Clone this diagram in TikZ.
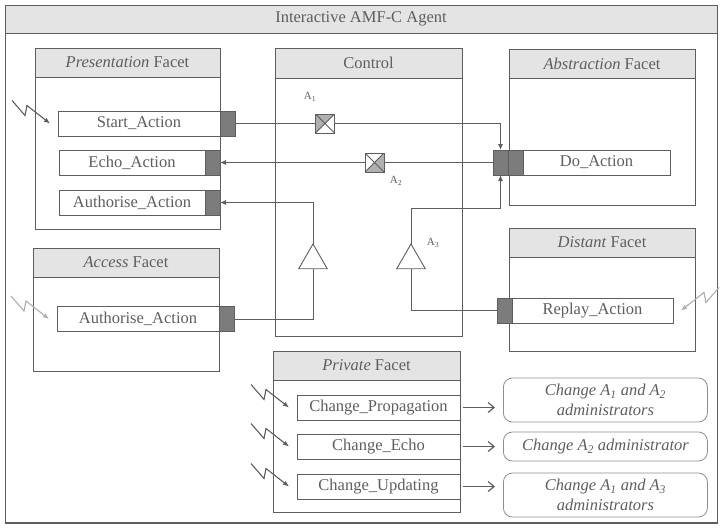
\documentclass[tikz,border=0pt]{standalone}
\usepackage{fontspec}
\setmainfont{Liberation Serif}
\usetikzlibrary{arrows.meta,shapes.geometric}
\definecolor{ink}{HTML}{5E5E5E}
\definecolor{port}{HTML}{7C7C7C}
\definecolor{band}{HTML}{E4E4E4}
\tikzset{
  every node/.style={font=\fontsize{16.5}{20}\selectfont, text=ink},
  frame/.style={draw=ink, line width=0.9pt, inner sep=0pt, outer sep=0pt},
  head/.style={frame, fill=band, minimum height=29pt},
  act/.style={frame, fill=white, minimum height=25pt},
  portbox/.style={frame, fill=port, minimum width=15pt, minimum height=25pt},
  note/.style={draw=ink!70, line width=0.8pt, rounded corners=9pt, align=center,
    minimum width=204pt, inner sep=2pt, font=\fontsize{16.5}{20}\selectfont\itshape},
  tri/.style={frame, fill=white, regular polygon, regular polygon sides=3, minimum size=33pt},
  lab/.style={font=\fontsize{11}{12}\selectfont},
  wire/.style={draw=ink, line width=1pt},
  tip/.style={-{Latex[length=6pt,width=5pt]}},
  switchA/.style={frame, fill=white, minimum size=19pt, path picture={
    \fill[port!60] (path picture bounding box.north east) -- (path picture bounding box.north west)
      -- (path picture bounding box.south west) -- (path picture bounding box.center) -- cycle;
    \draw[ink] (path picture bounding box.north west) -- (path picture bounding box.south east)
      (path picture bounding box.north east) -- (path picture bounding box.south west);}},
  switchB/.style={frame, fill=white, minimum size=19pt, path picture={
    \fill[port!60] (path picture bounding box.south west) -- (path picture bounding box.south east)
      -- (path picture bounding box.north east) -- (path picture bounding box.center) -- cycle;
    \draw[ink] (path picture bounding box.north west) -- (path picture bounding box.south east)
      (path picture bounding box.north east) -- (path picture bounding box.south west);}},
}

\begin{document}
\begin{tikzpicture}[x=1pt,y=-1pt]
  \newcommand\bolt[2][ink]{\draw[#1, line width=1.1pt, -{Latex[length=6pt,width=5pt]}]
    ([xshift=-8pt]#2.west) ++(-38,-23) -- ++(13,15) -- ++(2,-10) -- ++(23,18);}
  \newcommand\boltr[2][ink]{\draw[#1, line width=1.1pt, -{Latex[length=6pt,width=5pt]}]
    ([xshift=8pt]#2.east) ++(38,-23) -- ++(-13,15) -- ++(-2,-10) -- ++(-23,18);}
  \useasboundingbox (0,0) rectangle (720,528);

  \node[frame, anchor=north west, minimum width=712pt, minimum height=518pt] (agent) at (5,5) {};
  \draw[ink, line width=2pt] (agent.south west) -- (agent.south east);
  \node[head, anchor=north west, minimum width=712pt, minimum height=28pt] (title) at (5,5) {Interactive AMF-C Agent};

  \node[frame, anchor=north west, minimum width=185pt, minimum height=181pt] (pres) at (35,48) {};
  \node[head, anchor=north west, minimum width=185pt] (presh) at (35,48) {\textit{Presentation} Facet};
  \node[frame, anchor=north west, minimum width=187pt, minimum height=288pt] (ctrl) at (275,48) {};
  \node[head, anchor=north west, minimum width=187pt, minimum height=30pt] (ctrlh) at (275,48) {Control};
  \node[frame, anchor=north west, minimum width=186pt, minimum height=156pt] (abs) at (509,49) {};
  \node[head, anchor=north west, minimum width=186pt] (absh) at (509,49) {\textit{Abstraction} Facet};
  \node[frame, anchor=north west, minimum width=186pt, minimum height=123pt] (dist) at (509,228) {};
  \node[head, anchor=north west, minimum width=186pt] (disth) at (509,228) {\textit{Distant} Facet};
  \node[frame, anchor=north west, minimum width=186pt, minimum height=123pt] (acc) at (33,248) {};
  \node[head, anchor=north west, minimum width=186pt] (acch) at (33,248) {\textit{Access} Facet};
  \node[frame, anchor=north west, minimum width=187pt, minimum height=161pt] (priv) at (273,351) {};
  \node[head, anchor=north west, minimum width=187pt] (privh) at (273,351) {\textit{Private} Facet};

  \node[act, anchor=west, minimum width=162pt] (start) at (58,123.5) {Start\_Action};
  \node[portbox, anchor=west] (startp) at (start.east) {};
  \node[act, anchor=west, minimum width=146pt] (echo) at (59,162.5) {Echo\_Action};
  \node[portbox, anchor=west] (echop) at (echo.east) {};
  \node[act, anchor=west, minimum width=146pt] (auth) at (59,202.5) {Authorise\_Action};
  \node[portbox, anchor=west] (authp) at (auth.east) {};
  \node[act, anchor=west, minimum width=162pt] (accauth) at (57,319) {Authorise\_Action};
  \node[portbox, anchor=west] (accp) at (accauth.east) {};

  \node[portbox, anchor=west] (dop1) at (493,162.5) {};
  \node[portbox, anchor=west] (dop2) at (dop1.east) {};
  \node[act, anchor=west, minimum width=147pt] (do) at (dop2.east) {Do\_Action};
  \node[portbox, anchor=west] (repp) at (497,310.5) {};
  \node[act, anchor=west, minimum width=161pt] (replay) at (repp.east) {Replay\_Action};

  \node[switchA] (a1) at (325,123.5) {};
  \node[switchB] (a2) at (374.5,162.5) {};
  \node[tri] (t1) at (313,260.5) {};
  \node[tri] (t2) at (411,260.5) {};
  \node[lab] (a1l) at (310,97) {A\textsubscript{1}};
  \node[lab] (a2l) at (396,181) {A\textsubscript{2}};
  \node[lab] (a3l) at (433,243) {A\textsubscript{3}};

  \draw[wire, tip] (startp.east) -- (a1) -- (a1 -| dop1) -- (dop1.north);
  \draw[wire, tip] (dop1.west) -- (a2) -- (echop.east);
  \draw[wire, tip] (t1.north) |- (authp.east);
  \draw[wire] (accp.east) -| (t1.south);
  \draw[wire, tip] (t2.north) -- ++(0,-36) -| (dop1.south);
  \draw[wire] (repp.west) -| (t2.south);

  \node[act, anchor=west, minimum width=163pt] (cprop) at (297,407.5) {Change\_Propagation};
  \node[act, anchor=west, minimum width=163pt] (cecho) at (297,446.5) {Change\_Echo};
  \node[act, anchor=west, minimum width=163pt] (cupd) at (297,486.5) {Change\_Updating};
  \node[note, anchor=west, minimum height=44pt] (r1) at (503,400) {Change A\textsubscript{1} and A\textsubscript{2}\\administrators};
  \node[note, anchor=west, minimum height=29pt] (r2) at (503,446.5) {Change A\textsubscript{2} administrator};
  \node[note, anchor=west, minimum height=44pt] (r3) at (503,495) {Change A\textsubscript{1} and A\textsubscript{3}\\administrators};
  \foreach \c/\r in {cprop/r1, cecho/r2, cupd/r3}
    \draw[wire, line width=1.2pt, -{Straight Barb[length=6pt,width=10pt]}, shorten <=3pt, shorten >=8pt] (\c.east) -- (\c.east -| \r.west);

  \bolt{start}
  \bolt[ink!50]{accauth}
  \bolt{cprop}
  \bolt{cecho}
  \bolt{cupd}
  \boltr[ink!50]{replay}
\end{tikzpicture}
\end{document}
